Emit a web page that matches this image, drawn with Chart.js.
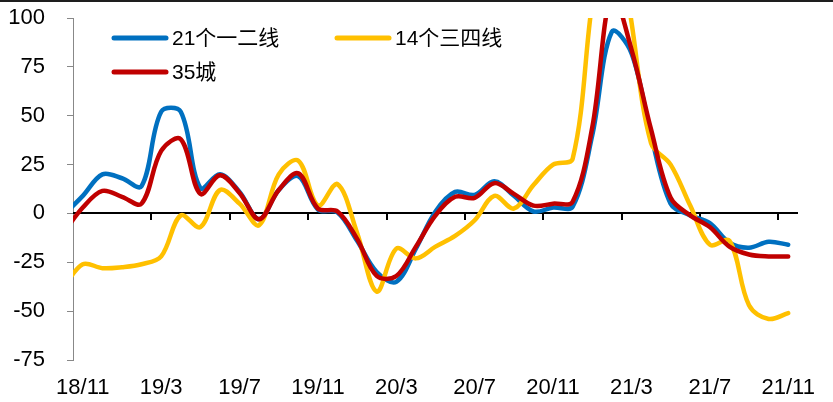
<!DOCTYPE html>
<html>
<head>
<meta charset="utf-8">
<script src="https://cdn.jsdelivr.net/npm/chart.js@4.4.1/dist/chart.umd.min.js"></script>
<style>
    html, body { margin: 0; padding: 0; background: #fff; }
    #wrap { width: 833px; height: 402px; box-sizing: border-box; border-top: 2px solid #1e1e1e; }
    canvas { display: block; }
</style>
</head>
<body>
<div id="wrap"><canvas id="chart" width="833" height="400"></canvas></div>
<script>
// monthly data, 18/10 sits just left of the axis and is clipped
const months = [
    '18/10', '18/11', '18/12',
    '19/1', '19/2', '19/3', '19/4', '19/5', '19/6', '19/7', '19/8', '19/9', '19/10', '19/11', '19/12',
    '20/1', '20/2', '20/3', '20/4', '20/5', '20/6', '20/7', '20/8', '20/9', '20/10', '20/11', '20/12',
    '21/1', '21/2', '21/3', '21/4', '21/5', '21/6', '21/7', '21/8', '21/9', '21/10', '21/11'
];

const tier12 = [ // 21个一二线
    -1, 9, 20, 18,
    14, 52, 52, 13, 20, 11, -3, 12, 19, 2, 0.5,
    -14, -30, -35, -18, 1, 11, 9.5, 16.5, 9, 1, 3, 3.5,
    40, 93, 82, 40, 5, -1, -5, -15, -17.5, -14.5, -16
];

const tier34 = [ // 14个三四线
    -38, -26, -28, -27.5,
    -26, -22, -1, -7, 12, 5, -6, 20, 27, 4, 15,
    -10, -40, -18, -23, -17, -11.5, -3.5, 9, 2.5, 14.5, 25, 28,
    108, 165, 98, 36, 25, 4, -16, -14, -47, -54, -51
];

const city35 = [ // 35城
    -10, 3, 11.5, 8.5,
    5, 32, 38, 10, 19.5, 10.5, -3, 12, 20.5, 2.5, 1,
    -13, -32, -32, -17, -1, 8.5, 8, 15.5, 10, 4, 5, 6,
    44, 112, 84, 43, 8, -1, -7, -17, -21, -22, -22
];

const xTickLabels = ['18/11', '19/3', '19/7', '19/11', '20/3', '20/7', '20/11', '21/3', '21/7', '21/11'];
const yTicks = [-75, -50, -25, 0, 25, 50, 75, 100];

const FONT = '"Liberation Sans", Arial, "Noto Sans CJK SC", sans-serif';

// each month is one slot on the x scale, points sit in the middle of it
const toPoints = arr => arr.map((v, i) => ({ x: i - 0.5, y: v }));
const labelPos = xTickLabels.map(l => months.indexOf(l) - 0.5);
const tickPos = xTickLabels.slice(1).map(l => months.indexOf(l) - 1);

// horizontal axis line crosses at y = 0, tick marks hang below it
const zeroAxisPlugin = {
    id: 'zeroAxis',
    beforeDatasetsDraw(chart, args, opts) {
        const { ctx, chartArea, scales: { x, y } } = chart;
        const y0 = Math.round(y.getPixelForValue(0));
        ctx.save();
        ctx.strokeStyle = '#000';
        ctx.lineWidth = 2;
        ctx.beginPath();
        ctx.moveTo(chartArea.left, y0);
        ctx.lineTo(chartArea.right, y0);
        tickPos.forEach(v => {
            const px = Math.round(x.getPixelForValue(v));
            ctx.moveTo(px, y0);
            ctx.lineTo(px, y0 + opts.tickLength);
        });
        ctx.stroke();
        ctx.restore();
    }
};

// legend drawn inside the plot, two columns
const legendPlugin = {
    id: 'insideLegend',
    afterDraw(chart, args, opts) {
        const ctx = chart.ctx;
        ctx.save();
        ctx.font = opts.font;
        ctx.textBaseline = 'middle';
        ctx.fillStyle = '#000';
        opts.items.forEach(item => {
            const ds = chart.data.datasets[item.dataset];
            ctx.strokeStyle = ds.borderColor;
            ctx.lineWidth = 5;
            ctx.lineCap = 'round';
            ctx.beginPath();
            ctx.moveTo(item.x, item.y);
            ctx.lineTo(item.x + opts.lineLength, item.y);
            ctx.stroke();
            ctx.fillText(ds.label, item.x + opts.lineLength + 6, item.y + 1);
        });
        ctx.restore();
    }
};

const ctx = document.getElementById('chart').getContext('2d');
const chart = new Chart(ctx, {
    type: 'line',
    data: {
        datasets: [
            { label: '21个一二线', data: toPoints(tier12), borderColor: '#0070C0', order: 3 },
            { label: '14个三四线', data: toPoints(tier34), borderColor: '#FFC000', order: 2 },
            { label: '35城', data: toPoints(city35), borderColor: '#C00000', order: 1 }
        ]
    },
    options: {
        responsive: false,
        animation: false,
        layout: { padding: { top: 16, right: 35, bottom: 0, left: 0 } },
        elements: {
            line: { borderWidth: 4.5, tension: 0.35, fill: false, borderCapStyle: 'round' },
            point: { radius: 0, hoverRadius: 0 }
        },
        datasets: { line: { clip: { left: 0, top: 0, right: 0, bottom: 0 } } },
        plugins: {
            legend: { display: false },
            tooltip: { enabled: false },
            zeroAxis: { tickLength: 7 },
            insideLegend: {
                font: '21px ' + FONT,
                lineLength: 52,
                items: [
                    { dataset: 0, x: 114, y: 36 },
                    { dataset: 1, x: 337, y: 36 },
                    { dataset: 2, x: 114, y: 70 }
                ]
            }
        },
        scales: {
            x: {
                type: 'linear',
                min: 0,
                max: months.length - 1,
                position: 'bottom',
                afterBuildTicks: s => { s.ticks = labelPos.map(v => ({ value: v })); },
                afterFit: s => { s.height = 42; },
                ticks: {
                    autoSkip: false,
                    maxRotation: 0,
                    padding: 15,
                    color: '#000',
                    font: { size: 22, family: FONT },
                    callback: (v, i) => xTickLabels[i]
                },
                grid: { display: false, drawTicks: false },
                border: { display: false }
            },
            y: {
                min: -75,
                max: 100,
                afterBuildTicks: s => { s.ticks = yTicks.map(v => ({ value: v })); },
                afterFit: s => { s.width = 73; s.paddingTop = 12; s.paddingBottom = 12; },
                ticks: { color: '#000', padding: 22, font: { size: 22, family: FONT } },
                grid: { drawOnChartArea: false, drawTicks: true, tickLength: 6, color: '#888', lineWidth: 1 },
                border: { color: '#888', width: 1 }
            }
        }
    },
    plugins: [zeroAxisPlugin, legendPlugin]
});
</script>
</body>
</html>
